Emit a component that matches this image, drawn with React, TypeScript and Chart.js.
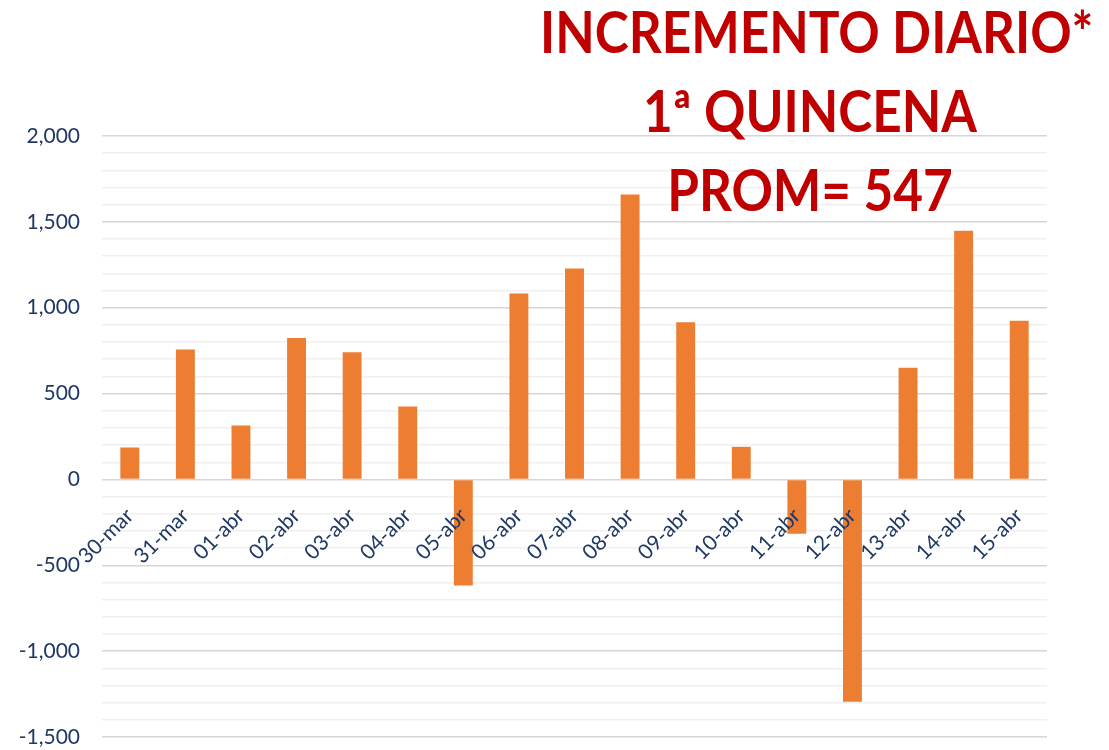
import React, { useEffect, useRef } from "react";
import { Chart, registerables } from "chart.js";

Chart.register(...registerables);

const categories = [
  "30-mar", "31-mar", "01-abr", "02-abr", "03-abr", "04-abr", "05-abr", "06-abr",
  "07-abr", "08-abr", "09-abr", "10-abr", "11-abr", "12-abr", "13-abr", "14-abr", "15-abr",
];
const incrementos = [186, 756, 314, 823, 740, 424, -617, 1083, 1229, 1660, 915, 190, -317, -1295, 651, 1448, 924];
const yMin = -1500;
const yMax = 2000;
const yStep = 100;
const yLabelStep = 500;
const titleLines = ["INCREMENTO DIARIO*", "1ª QUINCENA", "PROM= 547"];

const NAVY = "#1f3864";
const ORANGE = "#ed7d31";
const RED = "#c00000";

export default function App() {
  const canvasRef = useRef<HTMLCanvasElement | null>(null);

  useEffect(() => {
    if (!canvasRef.current) return;
    const chart = new Chart(canvasRef.current, {
      type: "bar",
      data: {
        labels: categories,
        datasets: [
          {
            label: "Incremento diario",
            data: incrementos,
            backgroundColor: ORANGE,
            borderWidth: 0,
            barPercentage: 0.34,
            categoryPercentage: 1,
          },
        ],
      },
      options: {
        animation: false,
        responsive: false,
        maintainAspectRatio: false,
        layout: { padding: { top: 136, bottom: 13, left: 0, right: 62 } },
        plugins: {
          legend: { display: false },
          title: { display: false },
          tooltip: { enabled: false },
        },
        scales: {
          x: {
            position: { y: 0 } as any,
            grid: { display: false, drawTicks: false },
            border: { display: false },
            ticks: {
              z: 1,
              color: NAVY,
              font: { family: "Lato", size: 21 },
              minRotation: 45,
              maxRotation: 45,
              autoSkip: false,
              padding: 24,
            },
            afterFit: (scale: any) => {
              scale.height = 0;
            },
          },
          y: {
            min: yMin,
            max: yMax,
            border: { display: false },
            grid: {
              drawTicks: false,
              lineWidth: 1.5,
              color: (ctx: any) =>
                ctx.tick && ctx.tick.value % yLabelStep === 0 ? "#d6d6d6" : "#f0f0f0",
            },
            ticks: {
              stepSize: yStep,
              autoSkip: false,
              color: NAVY,
              font: { family: "Lato", size: 21 },
              padding: 22,
              callback: (v: any) =>
                Number(v) % yLabelStep === 0 ? Number(v).toLocaleString("en-US") : "",
            },
            afterFit: (scale: any) => {
              scale.width = 102;
              scale.paddingTop = 0;
              scale.paddingBottom = 0;
            },
          },
        },
      },
    });
    return () => chart.destroy();
  }, []);

  return (
    <div style={{ position: "fixed", left: 0, top: 0, width: 1109, height: 750, background: "#fff" }}>
      <canvas ref={canvasRef} width={1109} height={750} style={{ position: "absolute", left: 0, top: 0 }} />
      <div
        style={{
          position: "absolute",
          left: 510,
          top: -8,
          width: 600,
          textAlign: "center",
          color: RED,
          fontFamily: "Lato, sans-serif",
          fontWeight: 700,
          fontSize: 57,
          lineHeight: "79px",
          pointerEvents: "none",
        }}
      >
        {titleLines.map((t, i) => (
          <div key={i} style={{ transform: "scaleX(0.9)", whiteSpace: "nowrap" }}>
            {t}
          </div>
        ))}
      </div>
    </div>
  );
}
